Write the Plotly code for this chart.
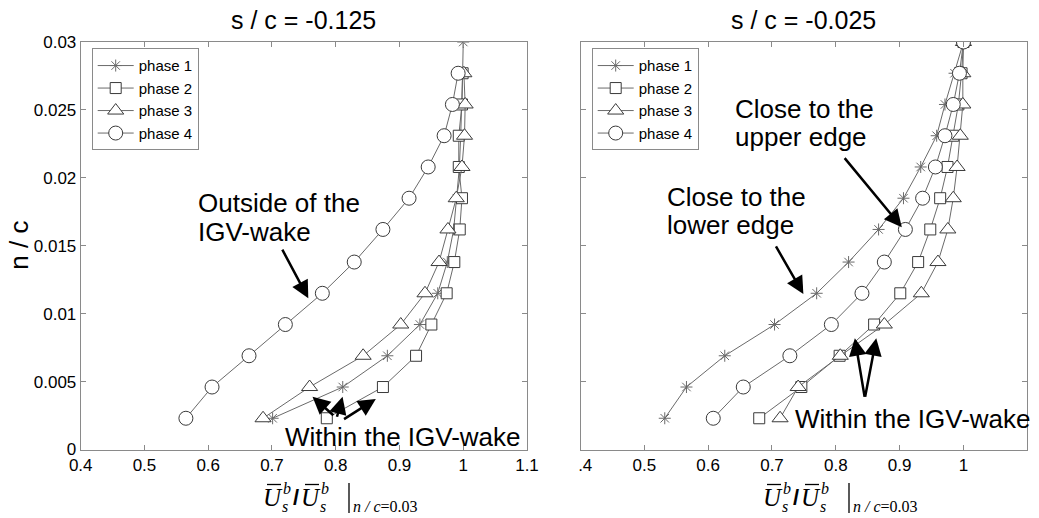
import plotly.graph_objects as go

# ---------------- data ----------------
n_c = [0.0023, 0.0046, 0.0069, 0.0092, 0.0115, 0.0138, 0.0162,
       0.0185, 0.0208, 0.0231, 0.0254, 0.0277, 0.0300]

phase_names = ["phase 1", "phase 2", "phase 3", "phase 4"]

# s/c = -0.125
left_p1 = [0.701, 0.811, 0.881, 0.932, 0.960, 0.975, 0.985, 0.990, 0.994, 0.996, 0.998, 0.999, 1.000]
left_p2 = [0.786, 0.874, 0.926, 0.950, 0.974, 0.986, 0.9945, 0.998, 0.993, 0.993, 0.998, 0.999]
left_p3 = [0.686, 0.759, 0.843, 0.902, 0.940, 0.962, 0.976, 0.989, 0.998, 1.002, 1.003, 1.001]
left_p4 = [0.565, 0.606, 0.664, 0.721, 0.779, 0.829, 0.874, 0.915, 0.945, 0.970, 0.983, 0.992]

# s/c = -0.025
right_p1 = [0.532, 0.566, 0.626, 0.704, 0.770, 0.820, 0.867, 0.906, 0.933, 0.958, 0.971, 0.986, 1.000]
right_p2 = [0.680, 0.746, 0.806, 0.860, 0.901, 0.929, 0.948, 0.9635, 0.975, 0.984, 0.992, 0.997, 1.000]
right_p3 = [0.7127, 0.741, 0.807, 0.876, 0.934, 0.960, 0.9755, 0.984, 0.990, 0.995, 0.999, 0.999, 1.000]
right_p4 = [0.608, 0.655, 0.728, 0.793, 0.841, 0.876, 0.909, 0.936, 0.956, 0.971, 0.984, 0.9937, 1.000]

x_ticks = [0.4, 0.5, 0.6, 0.7, 0.8, 0.9, 1.0, 1.1]
x_ticktext_left = ["0.4", "0.5", "0.6", "0.7", "0.8", "0.9", "1", "1.1"]
x_ticktext_right = ["\u2007.4", "0.5", "0.6", "0.7", "0.8", "0.9", "1", "1.1"]
y_ticks = [0, 0.005, 0.01, 0.015, 0.02, 0.025, 0.03]
y_ticktext = ["0", "0.005", "0.01", "0.015", "0.02", "0.025", "0.03"]

titles = ["s / c = -0.125", "s / c = -0.025"]

# ---------------- styling ----------------
FONT = "Liberation Sans, Arial, sans-serif"
SERIF = "Liberation Serif, Times New Roman, serif"
LINE_C = "#6a6a6a"
MK_C = "#3a3a3a"
AX_C = "#8a8a8a"

markers = [
    dict(symbol="asterisk-open", size=10, line=dict(color=MK_C, width=1)),
    dict(symbol="square", size=11, color="white", line=dict(color=MK_C, width=1)),
    dict(symbol="triangle-up", size=14, color="white", line=dict(color=MK_C, width=1)),
    dict(symbol="circle", size=14, color="white", line=dict(color=MK_C, width=1)),
]

fig = go.Figure()

left_series = [left_p1, left_p2, left_p3, left_p4]
right_series = [right_p1, right_p2, right_p3, right_p4]

for i, xs in enumerate(left_series):
    fig.add_trace(go.Scatter(
        x=xs, y=n_c[:len(xs)], mode="lines+markers", name=phase_names[i],
        line=dict(color=LINE_C, width=1), marker=markers[i],
        xaxis="x", yaxis="y", legend="legend"))

for i, xs in enumerate(right_series):
    fig.add_trace(go.Scatter(
        x=xs, y=n_c[:len(xs)], mode="lines+markers", name=phase_names[i],
        line=dict(color=LINE_C, width=1), marker=markers[i],
        xaxis="x2", yaxis="y2", legend="legend2"))

W, H = 1039, 518
def px(v):
    return v / W
def py(v):
    return 1 - v / H

axis_common = dict(
    showline=True, linecolor=AX_C, linewidth=1, mirror="ticks",
    ticks="inside", ticklen=5, tickcolor=AX_C, showgrid=False, zeroline=False,
    tickfont=dict(family=FONT, size=17, color="black"),
)

legend_common = dict(yanchor="top", xanchor="left", y=py(48.3),
                     bgcolor="white", bordercolor=AX_C, borderwidth=1,
                     font=dict(family=FONT, size=15, color="black"),
                     itemwidth=36,
                     tracegroupgap=0, itemclick=False, itemdoubleclick=False)

fig.update_layout(
    width=W, height=H, autosize=False,
    margin=dict(l=0, r=0, t=0, b=0, autoexpand=False),
    paper_bgcolor="white", plot_bgcolor="white",
    font=dict(family=FONT, color="black"),
    xaxis=dict(domain=[px(80.7), px(527)], range=[0.4, 1.1], tickmode="array",
               tickvals=x_ticks, ticktext=x_ticktext_left, anchor="y", **axis_common),
    yaxis=dict(domain=[py(449.5), py(42)], range=[0, 0.03], tickmode="array",
               tickvals=y_ticks, ticktext=y_ticktext, anchor="x", **axis_common),
    xaxis2=dict(domain=[px(580.5), px(1027.3)], range=[0.4, 1.1], tickmode="array",
                tickvals=x_ticks, ticktext=x_ticktext_right, anchor="y2", **axis_common),
    yaxis2=dict(domain=[py(449.5), py(42)], range=[0, 0.03], tickmode="array",
                tickvals=y_ticks, ticktext=y_ticktext, showticklabels=False,
                anchor="x2", **axis_common),
    legend=dict(x=px(91.7), **legend_common),
    legend2=dict(x=px(591.7), **legend_common),
    showlegend=True,
)

ann = []
shapes = []

def paper_text(text, x, y, size, family=FONT, xanchor="center", yanchor="middle", **kw):
    ann.append(dict(text=text, x=px(x), y=py(y), xref="paper", yref="paper",
                    xanchor=xanchor, yanchor=yanchor, showarrow=False,
                    font=dict(family=family, size=size, color="black"), **kw))

# titles
paper_text(titles[0], 303.9, 20.5, 25)
paper_text(titles[1], 803.9, 20.5, 25)
# y axis title
paper_text("n / c", 19, 245.7, 26, textangle=-90)

# x axis titles, composed of pieces (stacked super/subscripts)
for x0 in (264, 764):
    paper_text("<i>U</i>", x0 - 3, 497, 25, SERIF, xanchor="left")
    paper_text("<i>b</i>", x0 + 17, 488, 16, SERIF, xanchor="left")
    paper_text("<i>s</i>", x0 + 16, 517, 16, SERIF, xanchor="left", yanchor="bottom")
    paper_text("<b>/</b>", x0 + 27, 497, 22, FONT, xanchor="left")
    paper_text("<i>U</i>", x0 + 35, 497, 25, SERIF, xanchor="left")
    paper_text("<i>b</i>", x0 + 55, 488, 16, SERIF, xanchor="left")
    paper_text("<i>s</i>", x0 + 54, 517, 16, SERIF, xanchor="left", yanchor="bottom")
    paper_text("<i>n / c</i>=0.03", x0 + 87, 517, 16, SERIF, xanchor="left", yanchor="bottom")
    for bx in (x0 + 3, x0 + 41):
        shapes.append(dict(type="line", xref="paper", yref="paper",
                           x0=px(bx), x1=px(bx + 14), y0=py(484.5), y1=py(484.5),
                           line=dict(color="black", width=1.3)))
    shapes.append(dict(type="line", xref="paper", yref="paper",
                       x0=px(x0 + 85), x1=px(x0 + 85), y0=py(483), y1=py(513),
                       line=dict(color="black", width=1.3)))

TXT = dict(family=FONT, size=26, color="black")

def data_text(text, xr, yr, x, y):
    ann.append(dict(text=text, x=x, y=y, xref=xr, yref=yr, xanchor="left",
                    yanchor="middle", showarrow=False, font=TXT))

# left plot text
data_text("Outside of the", "x", "y", 0.5807, 0.01815)
data_text("IGV-wake", "x", "y", 0.5807, 0.01602)
data_text("Within the IGV-wake", "x", "y", 0.717, 0.00094)
# right plot text
data_text("Close to the", "x2", "y2", 0.639, 0.02507)
data_text("upper edge", "x2", "y2", 0.639, 0.02300)
data_text("Close to the", "x2", "y2", 0.5324, 0.01862)
data_text("lower edge", "x2", "y2", 0.5324, 0.01655)
data_text("Within the IGV-wake", "x2", "y2", 0.733, 0.00225)

arrows = [
    ("x", "y", 0.715, 0.01482, 0.757, 0.01113),
    ("x", "y", 0.7986, 0.00242, 0.7636, 0.00389),
    ("x", "y", 0.8013, 0.0023, 0.8107, 0.00389),
    ("x", "y", 0.8107, 0.00217, 0.8629, 0.00372),
    ("x2", "y2", 0.8119, 0.02156, 0.9034, 0.01636),
    ("x2", "y2", 0.7049, 0.01506, 0.7492, 0.01145),
    ("x2", "y2", 0.8455, 0.00377, 0.8298, 0.00819),
    ("x2", "y2", 0.8455, 0.00377, 0.8634, 0.00819),
]
for xr, yr, tx, ty, hx, hy in arrows:
    ann.append(dict(text="", x=hx, y=hy, ax=tx, ay=ty, xref=xr, yref=yr,
                    axref=xr, ayref=yr, showarrow=True, arrowhead=2,
                    arrowsize=1.4, arrowwidth=2.5, arrowcolor="black"))

fig.update_layout(annotations=ann, shapes=shapes)

fig.write_html(
    "out.html",
    config={"responsive": False, "displayModeBar": False},
    post_script="document.body.style.margin='0';document.body.style.padding='0';",
)
